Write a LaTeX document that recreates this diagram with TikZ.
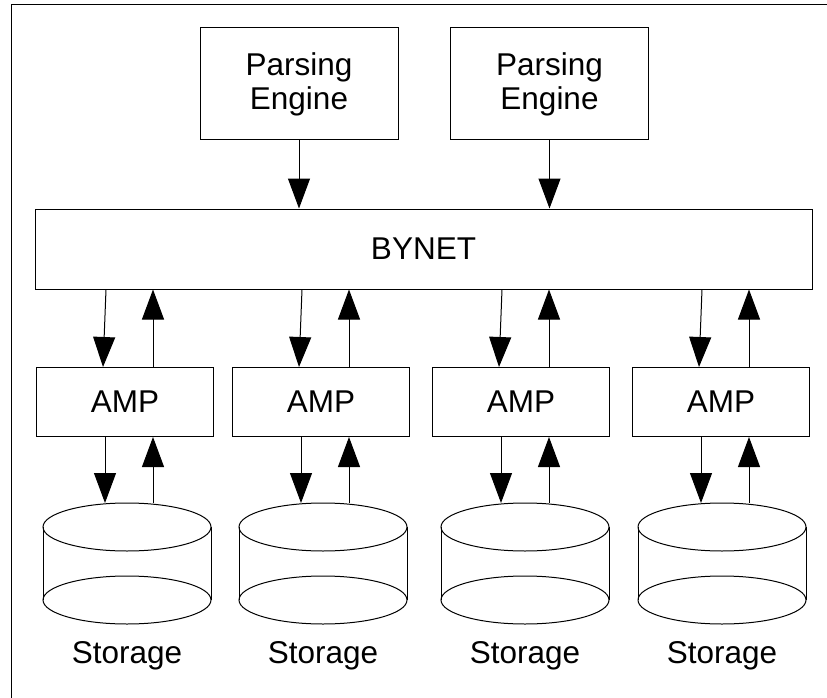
\documentclass[tikz,border=0pt]{standalone}
\usepackage{fontspec}
\setmainfont{Liberation Sans}
\usetikzlibrary{arrows.meta}

\tikzset{
  box/.style={draw, line width=1pt, inner sep=0pt, align=center},
  arw/.style={line width=1pt, -{Triangle[length=30pt,width=22pt]}},
}

\begin{document}
\begin{tikzpicture}[x=1pt, y=-1pt, line width=1pt,
    font=\fontsize{31.5}{34}\selectfont]
  \useasboundingbox (0, 0) rectangle (827, 698);
  \draw (11, 5) rectangle (860, 730);

  \node[box, minimum width=198, minimum height=112] (pe1) at (299, 84)
    {Parsing\\Engine};
  \node[box, minimum width=198, minimum height=112] (pe2) at (549.5, 84)
    {Parsing\\Engine};
  \node[box, minimum width=777, minimum height=80] (by) at (423.5, 249)
    {BYNET};

  \draw[arw] (pe1.south) -- (pe1 |- by.north);
  \draw[arw] (pe2.south) -- (pe2 |- by.north);

  \foreach \c/\s [count=\i] in {125/127, 321/323, 521/525, 721/722} {
    \node[box, minimum width=177, minimum height=69] (amp\i) at (\c, 402)
      {AMP};
    % storage disk
    \draw (\s, 527) ellipse (84 and 24);
    \draw (\s, 600) ellipse (84 and 24);
    \draw (\s - 84, 527) -- (\s - 84, 600);
    \draw (\s + 84, 527) -- (\s + 84, 600);
    \coordinate (st\i) at (\s, 503);
    \node[anchor=base] (lb\i) at (\s, 663) {Storage};

    \draw[arw] ([xshift=-19pt]amp\i.north |- by.south)
      -- ([xshift=-22pt]amp\i.north);
    \draw[arw] ([xshift=28pt]amp\i.north)
      -- ([xshift=28pt]amp\i.north |- by.south);
    \draw[arw] ([xshift=-20pt]amp\i.south)
      -- ([xshift=-20pt]amp\i.south |- st\i);
    \draw[arw] ([xshift=28pt]amp\i.south |- st\i)
      -- ([xshift=28pt]amp\i.south);
  }
\end{tikzpicture}
\end{document}
